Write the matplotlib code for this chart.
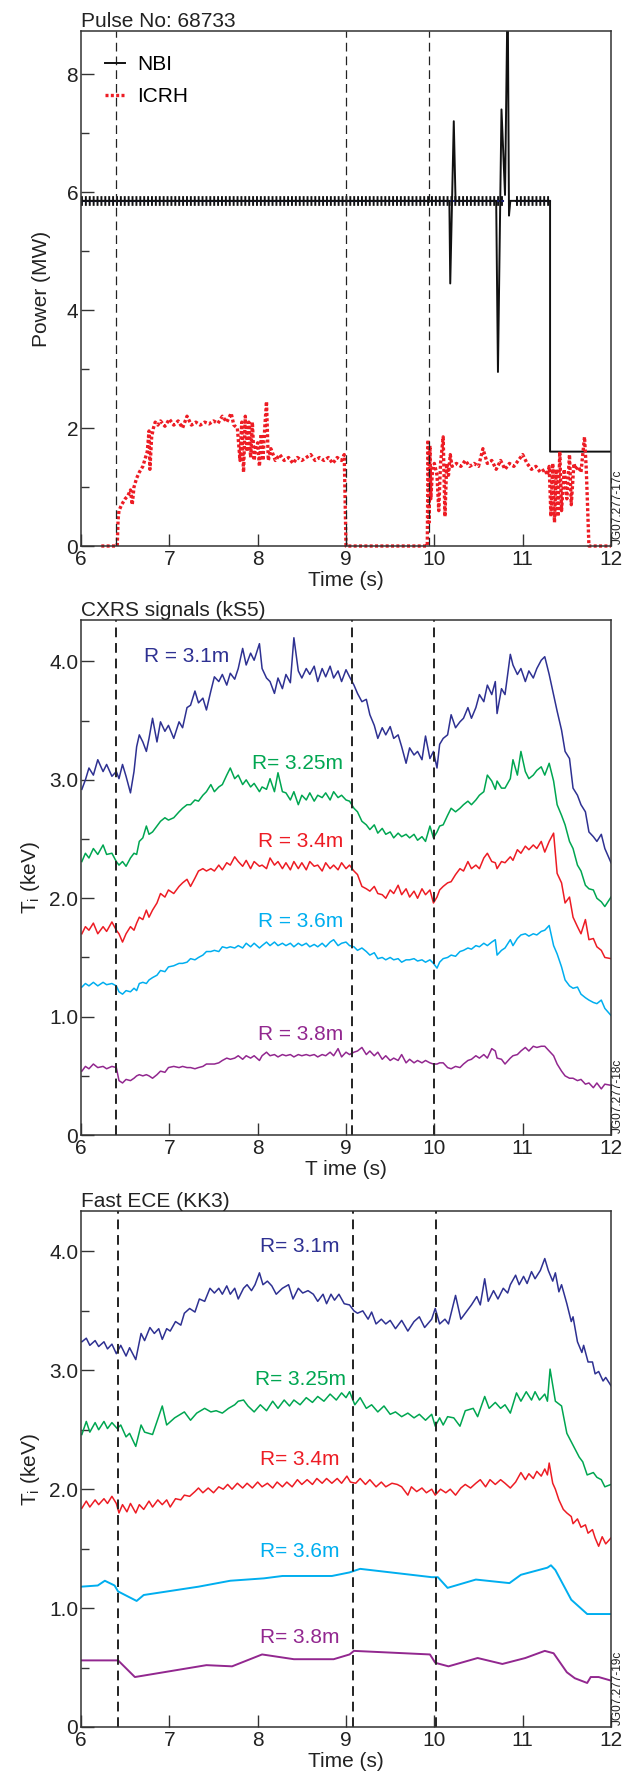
import numpy as np
import matplotlib
matplotlib.use("Agg")
import matplotlib.pyplot as plt
from matplotlib.ticker import FixedLocator, FixedFormatter

plt.rcParams['font.family'] = ['Liberation Sans', 'DejaVu Sans']

# ---------------- panel 1 : heating power ----------------
nbi_t = [6.0, 10.17, 10.18, 10.22, 10.24, 10.70, 10.72, 10.76, 10.80, 10.83,
         10.845, 10.86, 11.31, 11.31, 12.0]
nbi_p = [5.85, 5.85, 4.45, 7.2, 5.85, 5.85, 2.95, 7.4, 5.95, 9.5,
         5.6, 5.85, 5.85, 1.6, 1.6]
# modulated NBI level (dense on/off comb)
band_t = [6.0, 10.78, np.nan, 10.93, 11.31]
band_p = [5.85, 5.85, np.nan, 5.85, 5.85]

icrh_t = [6.23, 6.41, 6.42, 6.43, 6.46, 6.50, 6.53, 6.56, 6.58, 6.60, 6.63, 6.66,
          6.70, 6.73, 6.75, 6.77, 6.78, 6.80, 6.82, 6.84, 6.87, 6.90, 6.95, 7.00,
          7.05, 7.10, 7.15, 7.20, 7.25, 7.30, 7.35, 7.40, 7.45, 7.50, 7.55, 7.60,
          7.65, 7.70, 7.73, 7.77, 7.80, 7.82, 7.84, 7.86, 7.88, 7.90, 7.92, 7.94,
          7.96, 7.98, 8.00, 8.02, 8.04, 8.06, 8.08, 8.10, 8.12, 8.15, 8.20, 8.25,
          8.30, 8.35, 8.40, 8.45, 8.50, 8.55, 8.60, 8.65, 8.70, 8.75, 8.80, 8.85,
          8.90, 8.95, 8.98, 9.00, 9.92, 9.93, 9.94, 9.95, 9.96, 9.98, 10.00, 10.03,
          10.05, 10.07, 10.10, 10.12, 10.14, 10.16, 10.18, 10.20, 10.25, 10.30, 10.35, 10.40,
          10.45, 10.50, 10.55, 10.60, 10.65, 10.70, 10.75, 10.80, 10.85, 10.90, 10.95, 11.00,
          11.05, 11.10, 11.15, 11.20, 11.25, 11.28, 11.30, 11.32, 11.34, 11.36, 11.38, 11.40,
          11.42, 11.44, 11.47, 11.50, 11.53, 11.55, 11.58, 11.60, 11.63, 11.66, 11.70, 11.72,
          11.75, 12.0]
icrh_p = [0.0, 0.0, 0.45, 0.60, 0.70, 0.80, 0.85, 0.95, 0.70, 1.00, 1.15, 1.25,
          1.35, 1.50, 1.60, 1.95, 1.30, 1.85, 2.00, 2.10, 2.05, 2.12, 2.03, 2.15,
          2.05, 2.12, 2.00, 2.20, 2.05, 2.10, 2.05, 2.10, 2.07, 2.12, 2.08, 2.20,
          2.10, 2.25, 2.05, 2.00, 1.45, 2.10, 1.25, 2.20, 1.60, 2.10, 1.50, 2.10,
          1.45, 1.70, 1.75, 1.35, 1.90, 1.45, 2.00, 2.45, 1.45, 1.65, 1.45, 1.55,
          1.45, 1.50, 1.40, 1.50, 1.45, 1.50, 1.55, 1.45, 1.50, 1.45, 1.50, 1.40,
          1.50, 1.45, 1.55, 0.0, 0.0, 1.80, 0.40, 1.70, 0.80, 1.30, 1.40, 1.20,
          0.60, 1.40, 1.85, 0.50, 1.40, 1.20, 1.55, 1.35, 1.40, 1.35, 1.45, 1.35,
          1.40, 1.35, 1.65, 1.40, 1.45, 1.30, 1.45, 1.30, 1.40, 1.35, 1.45, 1.55,
          1.40, 1.30, 1.35, 1.25, 1.30, 1.20, 1.35, 0.50, 1.40, 0.40, 1.30, 0.50,
          1.60, 0.60, 1.30, 0.80, 1.55, 0.70, 1.40, 1.30, 1.35, 1.25, 1.85, 1.30,
          0.0, 0.0]

# ---------------- panel 2 : CXRS ----------------
t_cx = [6.01, 6.05, 6.09, 6.14, 6.19, 6.25, 6.29, 6.35, 6.40, 6.43,
        6.47, 6.51, 6.56, 6.60, 6.63, 6.66, 6.70, 6.74, 6.77, 6.81,
        6.86, 6.90, 6.95, 6.99, 7.05, 7.11, 7.15, 7.20, 7.24, 7.29,
        7.33, 7.38, 7.42, 7.47, 7.51, 7.56, 7.60, 7.65, 7.69, 7.74,
        7.78, 7.83, 7.87, 7.92, 7.96, 8.02, 8.05, 8.10, 8.14, 8.19,
        8.23, 8.28, 8.32, 8.37, 8.41, 8.46, 8.50, 8.55, 8.59, 8.64,
        8.68, 8.73, 8.77, 8.82, 8.86, 8.91, 8.95, 9.00, 9.04, 9.09,
        9.13, 9.18, 9.23, 9.27, 9.32, 9.36, 9.41, 9.45, 9.50, 9.54,
        9.59, 9.63, 9.68, 9.72, 9.77, 9.81, 9.86, 9.90, 9.95, 9.99,
        10.03, 10.06, 10.10, 10.15, 10.19, 10.24, 10.29, 10.33, 10.38, 10.42,
        10.47, 10.51, 10.56, 10.60, 10.65, 10.69, 10.71, 10.76, 10.80, 10.86,
        10.89, 10.94, 10.98, 11.03, 11.07, 11.12, 11.16, 11.21, 11.25, 11.30,
        11.35, 11.39, 11.44, 11.48, 11.53, 11.57, 11.62, 11.66, 11.71, 11.75,
        11.80, 11.84, 11.89, 11.93, 12.00]
cx_31 = [2.92, 3.00, 3.10, 3.04, 3.17, 3.07, 3.13, 3.03, 3.07, 3.01,
         3.13, 3.03, 2.89, 3.07, 3.28, 3.38, 3.32, 3.24, 3.35, 3.52,
         3.32, 3.49, 3.41, 3.46, 3.35, 3.49, 3.44, 3.61, 3.63, 3.75,
         3.65, 3.69, 3.59, 3.75, 3.87, 3.83, 3.89, 3.80, 3.90, 3.85,
         3.94, 4.11, 3.97, 4.07, 4.01, 4.15, 3.94, 3.86, 3.83, 3.73,
         3.86, 3.77, 3.89, 3.82, 4.20, 3.92, 3.86, 3.94, 3.89, 3.96,
         3.83, 3.94, 3.87, 3.96, 3.86, 3.92, 3.83, 3.93, 3.87, 3.80,
         3.73, 3.66, 3.68, 3.55, 3.46, 3.35, 3.44, 3.38, 3.45, 3.35,
         3.38, 3.28, 3.14, 3.27, 3.21, 3.24, 3.17, 3.37, 3.18, 3.24,
         3.10, 3.30, 3.35, 3.38, 3.55, 3.44, 3.49, 3.52, 3.61, 3.52,
         3.61, 3.72, 3.66, 3.80, 3.72, 3.83, 3.56, 3.77, 3.72, 4.06,
         3.97, 3.89, 3.94, 3.83, 3.92, 3.86, 3.94, 4.01, 4.04, 3.89,
         3.72, 3.58, 3.42, 3.24, 3.18, 2.93, 2.87, 2.79, 2.73, 2.56,
         2.52, 2.48, 2.54, 2.42, 2.30]
cx_325 = [2.31, 2.38, 2.34, 2.42, 2.37, 2.45, 2.37, 2.38, 2.31, 2.28,
          2.31, 2.27, 2.34, 2.38, 2.37, 2.48, 2.51, 2.61, 2.54, 2.56,
          2.61, 2.65, 2.68, 2.66, 2.68, 2.73, 2.76, 2.79, 2.79, 2.83,
          2.82, 2.87, 2.90, 2.96, 2.90, 2.94, 2.96, 3.04, 3.10, 3.01,
          3.04, 2.96, 3.00, 2.94, 2.97, 2.90, 2.94, 2.92, 3.01, 2.90,
          3.06, 2.90, 2.89, 2.83, 2.90, 2.79, 2.87, 2.83, 2.89, 2.82,
          2.87, 2.85, 2.89, 2.83, 2.90, 2.85, 2.87, 2.83, 2.82, 2.76,
          2.73, 2.65, 2.62, 2.58, 2.62, 2.55, 2.59, 2.54, 2.56, 2.51,
          2.55, 2.52, 2.54, 2.51, 2.54, 2.49, 2.52, 2.48, 2.61, 2.51,
          2.56, 2.61, 2.62, 2.70, 2.76, 2.73, 2.76, 2.79, 2.82, 2.79,
          2.83, 2.87, 2.90, 3.04, 2.99, 2.92, 2.99, 2.93, 2.93, 3.01,
          3.17, 3.04, 3.24, 3.07, 3.01, 3.04, 3.08, 3.11, 3.04, 3.14,
          2.99, 2.79, 2.70, 2.62, 2.48, 2.42, 2.28, 2.23, 2.11, 2.08,
          2.07, 2.00, 1.97, 1.93, 2.01]
cx_34 = [1.70, 1.76, 1.73, 1.79, 1.70, 1.76, 1.72, 1.80, 1.73, 1.70,
         1.63, 1.70, 1.76, 1.73, 1.79, 1.84, 1.82, 1.90, 1.84, 1.90,
         1.96, 2.04, 2.01, 2.07, 2.04, 2.10, 2.13, 2.16, 2.10, 2.17,
         2.23, 2.25, 2.23, 2.25, 2.23, 2.28, 2.24, 2.30, 2.28, 2.35,
         2.31, 2.27, 2.32, 2.25, 2.31, 2.27, 2.28, 2.25, 2.34, 2.28,
         2.31, 2.25, 2.30, 2.24, 2.31, 2.25, 2.30, 2.24, 2.31, 2.27,
         2.28, 2.23, 2.30, 2.25, 2.28, 2.24, 2.30, 2.25, 2.28, 2.23,
         2.20, 2.10, 2.08, 2.06, 2.10, 2.04, 2.03, 2.00, 2.07, 2.04,
         2.11, 2.03, 2.08, 2.01, 2.06, 2.00, 2.08, 2.03, 2.07, 1.96,
         2.01, 2.07, 2.10, 2.13, 2.14, 2.20, 2.25, 2.23, 2.31, 2.25,
         2.28, 2.25, 2.34, 2.38, 2.31, 2.30, 2.25, 2.31, 2.30, 2.35,
         2.32, 2.41, 2.38, 2.44, 2.41, 2.45, 2.42, 2.48, 2.39, 2.48,
         2.55, 2.21, 2.13, 1.96, 2.01, 1.84, 1.76, 1.70, 1.82, 1.65,
         1.66, 1.59, 1.56, 1.50, 1.49]
cx_36 = [1.25, 1.28, 1.26, 1.29, 1.26, 1.29, 1.27, 1.28, 1.26, 1.21,
         1.19, 1.22, 1.21, 1.24, 1.22, 1.28, 1.29, 1.28, 1.31, 1.33,
         1.35, 1.39, 1.38, 1.42, 1.43, 1.45, 1.45, 1.46, 1.49, 1.48,
         1.50, 1.52, 1.55, 1.55, 1.56, 1.55, 1.59, 1.58, 1.59, 1.58,
         1.60, 1.58, 1.62, 1.59, 1.62, 1.58, 1.60, 1.63, 1.60, 1.63,
         1.60, 1.62, 1.60, 1.62, 1.59, 1.62, 1.60, 1.62, 1.59, 1.61,
         1.59, 1.62, 1.59, 1.63, 1.65, 1.60, 1.62, 1.63, 1.60, 1.59,
         1.56, 1.58, 1.55, 1.52, 1.54, 1.49, 1.50, 1.48, 1.50, 1.48,
         1.49, 1.46, 1.48, 1.48, 1.49, 1.47, 1.48, 1.46, 1.48, 1.45,
         1.41, 1.46, 1.49, 1.50, 1.52, 1.51, 1.55, 1.56, 1.58, 1.57,
         1.60, 1.59, 1.62, 1.60, 1.63, 1.65, 1.52, 1.56, 1.58, 1.65,
         1.60, 1.66, 1.69, 1.70, 1.68, 1.70, 1.69, 1.72, 1.73, 1.77,
         1.60, 1.53, 1.42, 1.31, 1.26, 1.24, 1.25, 1.19, 1.16, 1.14,
         1.12, 1.11, 1.14, 1.07, 1.01]
cx_38 = [0.54, 0.58, 0.56, 0.60, 0.57, 0.58, 0.56, 0.58, 0.57, 0.46,
         0.44, 0.47, 0.46, 0.48, 0.50, 0.51, 0.50, 0.51, 0.50, 0.48,
         0.51, 0.54, 0.53, 0.57, 0.58, 0.57, 0.58, 0.57, 0.57, 0.56,
         0.57, 0.58, 0.60, 0.60, 0.60, 0.61, 0.63, 0.65, 0.64, 0.65,
         0.67, 0.64, 0.67, 0.65, 0.67, 0.63, 0.67, 0.70, 0.67, 0.68,
         0.66, 0.68, 0.67, 0.68, 0.66, 0.68, 0.67, 0.68, 0.67, 0.68,
         0.66, 0.68, 0.67, 0.70, 0.67, 0.73, 0.66, 0.70, 0.68, 0.70,
         0.71, 0.74, 0.68, 0.71, 0.67, 0.70, 0.64, 0.67, 0.63, 0.65,
         0.63, 0.68, 0.61, 0.64, 0.61, 0.63, 0.61, 0.63, 0.61, 0.60,
         0.60, 0.61, 0.61, 0.57, 0.56, 0.58, 0.57, 0.60, 0.63, 0.64,
         0.67, 0.65, 0.68, 0.65, 0.73, 0.71, 0.65, 0.64, 0.60, 0.65,
         0.67, 0.68, 0.71, 0.74, 0.71, 0.75, 0.74, 0.75, 0.75, 0.71,
         0.67, 0.60, 0.54, 0.50, 0.48, 0.48, 0.46, 0.47, 0.43, 0.44,
         0.40, 0.44, 0.39, 0.43, 0.42]

# ---------------- panel 3 : fast ECE ----------------
t_e31 = [6.01, 6.06, 6.10, 6.16, 6.20, 6.26, 6.30, 6.35, 6.40, 6.45,
         6.51, 6.55, 6.62, 6.68, 6.72, 6.78, 6.83, 6.88, 6.92, 6.97,
         7.01, 7.07, 7.13, 7.17, 7.23, 7.29, 7.34, 7.40, 7.46, 7.51,
         7.56, 7.60, 7.65, 7.69, 7.74, 7.78, 7.84, 7.88, 7.93, 7.97,
         8.02, 8.06, 8.11, 8.16, 8.21, 8.28, 8.35, 8.40, 8.46, 8.51,
         8.57, 8.63, 8.68, 8.74, 8.78, 8.83, 8.87, 8.92, 8.98, 9.04,
         9.09, 9.13, 9.19, 9.25, 9.29, 9.34, 9.40, 9.45, 9.50, 9.56,
         9.63, 9.70, 9.77, 9.83, 9.89, 9.97, 10.01, 10.06, 10.12, 10.16,
         10.24, 10.30, 10.36, 10.42, 10.48, 10.52, 10.57, 10.61, 10.67, 10.72,
         10.78, 10.83, 10.86, 10.92, 10.96, 11.01, 11.05, 11.10, 11.14, 11.20,
         11.25, 11.29, 11.34, 11.37, 11.41, 11.44, 11.50, 11.55, 11.57, 11.62,
         11.67, 11.69, 11.74, 11.79, 11.82, 11.86, 11.91, 11.94, 12.00]
ece_31 = [3.24, 3.27, 3.21, 3.25, 3.20, 3.24, 3.18, 3.22, 3.14, 3.21,
          3.12, 3.19, 3.09, 3.31, 3.25, 3.36, 3.31, 3.35, 3.26, 3.35,
          3.33, 3.41, 3.38, 3.48, 3.52, 3.49, 3.60, 3.58, 3.69, 3.65,
          3.69, 3.64, 3.71, 3.64, 3.69, 3.60, 3.69, 3.72, 3.67, 3.72,
          3.82, 3.72, 3.75, 3.71, 3.64, 3.69, 3.72, 3.60, 3.69, 3.65,
          3.67, 3.64, 3.58, 3.64, 3.56, 3.64, 3.59, 3.64, 3.56, 3.55,
          3.50, 3.48, 3.50, 3.43, 3.49, 3.39, 3.43, 3.39, 3.42, 3.35,
          3.42, 3.33, 3.41, 3.45, 3.36, 3.43, 3.52, 3.39, 3.43, 3.39,
          3.63, 3.43, 3.49, 3.55, 3.62, 3.55, 3.77, 3.58, 3.67, 3.60,
          3.69, 3.65, 3.72, 3.80, 3.72, 3.79, 3.73, 3.83, 3.77, 3.84,
          3.94, 3.84, 3.75, 3.82, 3.66, 3.72, 3.56, 3.41, 3.45, 3.24,
          3.15, 3.21, 3.07, 3.07, 2.97, 2.99, 2.91, 2.94, 2.87]

t_e325 = [6.01, 6.06, 6.10, 6.16, 6.20, 6.26, 6.30, 6.35, 6.41, 6.45,
          6.51, 6.55, 6.62, 6.68, 6.72, 6.81, 6.92, 6.97, 7.06, 7.17,
          7.24, 7.31, 7.40, 7.47, 7.53, 7.60, 7.67, 7.74, 7.78, 7.84,
          7.89, 7.96, 8.03, 8.10, 8.17, 8.23, 8.30, 8.36, 8.41, 8.48,
          8.55, 8.62, 8.68, 8.75, 8.82, 8.89, 8.95, 9.00, 9.04, 9.10,
          9.16, 9.23, 9.29, 9.36, 9.43, 9.50, 9.56, 9.63, 9.70, 9.77,
          9.83, 9.90, 9.97, 10.01, 10.06, 10.10, 10.15, 10.22, 10.29, 10.35,
          10.44, 10.49, 10.57, 10.62, 10.69, 10.75, 10.80, 10.86, 10.93, 10.98,
          11.04, 11.10, 11.14, 11.19, 11.25, 11.28, 11.31, 11.37, 11.44, 11.50,
          11.57, 11.64, 11.68, 11.73, 11.80, 11.84, 11.89, 11.93, 12.00]
ece_325 = [2.46, 2.57, 2.48, 2.56, 2.50, 2.57, 2.51, 2.56, 2.51, 2.54,
           2.44, 2.47, 2.36, 2.54, 2.48, 2.46, 2.70, 2.54, 2.60, 2.65,
           2.58, 2.64, 2.68, 2.65, 2.66, 2.64, 2.68, 2.71, 2.74, 2.75,
           2.70, 2.65, 2.71, 2.66, 2.74, 2.68, 2.75, 2.70, 2.75, 2.71,
           2.77, 2.73, 2.78, 2.74, 2.80, 2.75, 2.81, 2.77, 2.82, 2.71,
           2.77, 2.68, 2.71, 2.65, 2.70, 2.63, 2.65, 2.61, 2.64, 2.60,
           2.63, 2.58, 2.63, 2.53, 2.60, 2.54, 2.61, 2.60, 2.53, 2.66,
           2.68, 2.61, 2.78, 2.68, 2.73, 2.68, 2.71, 2.64, 2.81, 2.74,
           2.82, 2.75, 2.82, 2.75, 2.80, 2.74, 3.01, 2.74, 2.70, 2.47,
           2.37, 2.27, 2.23, 2.12, 2.14, 2.10, 2.08, 2.02, 2.04]

t_e34 = [6.01, 6.06, 6.10, 6.16, 6.20, 6.26, 6.30, 6.35, 6.40, 6.43,
         6.47, 6.52, 6.56, 6.62, 6.66, 6.71, 6.77, 6.81, 6.87, 6.92,
         6.97, 7.01, 7.07, 7.13, 7.17, 7.23, 7.29, 7.33, 7.38, 7.44,
         7.50, 7.56, 7.61, 7.66, 7.71, 7.77, 7.83, 7.88, 7.94, 8.00,
         8.05, 8.11, 8.17, 8.22, 8.28, 8.33, 8.39, 8.45, 8.50, 8.56,
         8.62, 8.67, 8.73, 8.78, 8.84, 8.90, 8.95, 9.01, 9.05, 9.11,
         9.16, 9.22, 9.27, 9.34, 9.40, 9.45, 9.52, 9.58, 9.63, 9.70,
         9.74, 9.80, 9.86, 9.91, 9.97, 10.01, 10.07, 10.13, 10.18, 10.24,
         10.30, 10.35, 10.41, 10.47, 10.52, 10.58, 10.63, 10.69, 10.75, 10.80,
         10.86, 10.92, 10.98, 11.03, 11.07, 11.12, 11.16, 11.21, 11.25, 11.28,
         11.30, 11.34, 11.37, 11.41, 11.46, 11.50, 11.55, 11.57, 11.62, 11.66,
         11.71, 11.74, 11.79, 11.82, 11.86, 11.90, 11.94, 12.00]
ece_34 = [1.84, 1.90, 1.85, 1.91, 1.87, 1.92, 1.88, 1.94, 1.88, 1.80,
          1.87, 1.81, 1.88, 1.80, 1.87, 1.83, 1.90, 1.85, 1.91, 1.87,
          1.91, 1.85, 1.92, 1.91, 1.95, 1.94, 1.98, 2.01, 1.97, 2.01,
          1.97, 2.02, 2.00, 2.04, 2.00, 2.05, 2.01, 2.05, 2.01, 2.06,
          2.02, 2.05, 2.01, 2.06, 2.02, 2.06, 2.02, 2.08, 2.04, 2.08,
          2.04, 2.09, 2.05, 2.09, 2.05, 2.09, 2.05, 2.11, 2.06, 2.05,
          2.09, 2.04, 2.08, 2.02, 2.06, 2.02, 2.05, 2.04, 2.02, 1.95,
          2.02, 1.98, 2.01, 1.97, 2.00, 1.95, 2.00, 1.97, 2.00, 1.95,
          2.01, 2.04, 2.01, 2.05, 2.08, 2.02, 2.08, 2.04, 2.08, 2.05,
          2.01, 2.06, 2.14, 2.08, 2.13, 2.09, 2.15, 2.11, 2.17, 2.12,
          2.22, 2.05, 2.00, 1.91, 1.83, 1.80, 1.77, 1.71, 1.75, 1.68,
          1.70, 1.63, 1.66, 1.59, 1.52, 1.60, 1.54, 1.59]

t_e36 = [6.00, 6.19, 6.27, 6.38, 6.42, 6.63, 6.71, 7.33, 7.69, 8.07, 8.28, 8.84, 9.04,
         9.16, 9.97, 10.04, 10.15, 10.47, 10.85, 10.98, 11.28, 11.32, 11.37, 11.55,
         11.73, 12.00]
ece_36 = [1.18, 1.19, 1.23, 1.19, 1.14, 1.06, 1.11, 1.18, 1.23, 1.25, 1.27, 1.27, 1.30,
          1.33, 1.26, 1.26, 1.17, 1.24, 1.21, 1.28, 1.34, 1.36, 1.32, 1.07,
          0.95, 0.95]

t_e38 = [6.00, 6.42, 6.61, 7.42, 7.71, 8.05, 8.41, 8.86, 9.04, 9.09, 9.95, 10.01,
         10.16, 10.49, 10.77, 11.03, 11.25, 11.35, 11.50, 11.59, 11.73, 11.77, 11.86, 12.00]
ece_38 = [0.56, 0.56, 0.42, 0.52, 0.51, 0.61, 0.57, 0.57, 0.61, 0.64, 0.61, 0.54,
          0.51, 0.58, 0.53, 0.58, 0.64, 0.62, 0.46, 0.41, 0.37, 0.42, 0.42, 0.39]

blue = '#2e3192'
green = '#00a651'
red = '#ed1c24'
cyan = '#00aeef'
purple = '#92278f'
fs = 15

fig = plt.figure(figsize=(6.24, 17.78), dpi=100)
left, width, height = 0.1298, 0.8494, 0.2897
ax1 = fig.add_axes([left, 0.6929, width, height])
ax2 = fig.add_axes([left, 0.3616, width, height])
ax3 = fig.add_axes([left, 0.0287, width, 0.2902])


def style(ax, ymax, major, minor, labels, xlabel, title, code):
    ax.set_xlim(6, 12)
    ax.set_ylim(0, ymax)
    ax.set_xticks(range(6, 13))
    ax.yaxis.set_major_locator(FixedLocator(major))
    ax.yaxis.set_major_formatter(FixedFormatter(labels))
    ax.yaxis.set_minor_locator(FixedLocator(minor))
    ax.tick_params(which='both', direction='in', colors='#333333', labelcolor='#222222',
                   labelsize=fs, width=1.0, pad=2)
    ax.tick_params(which='major', length=9)
    ax.tick_params(which='minor', length=6)
    ax.tick_params(axis='x', pad=3)
    for s in ax.spines.values():
        s.set_color('#333333')
        s.set_linewidth(1.1)
    ax.set_xlabel(xlabel, fontsize=fs, labelpad=1, color='#222222')
    ax.set_title(title, loc='left', fontsize=fs, pad=3, color='#222222')
    pos = ax.get_position()
    fig.text(0.9895, pos.y0 + 0.001, code, rotation=90, ha='center', va='bottom',
             fontsize=8.5, color='#222222')


# panel 1
ax1.plot(band_t, band_p, color='#111111', lw=7.0, dashes=(0.2, 0.2))
ax1.plot(band_t, band_p, color='#1b1f6b', lw=1.5)
ax1.plot(nbi_t, nbi_p, color='#111111', lw=1.4, label='NBI')
ax1.plot(icrh_t, icrh_p, color=red, lw=2.4, linestyle=(0, (0.9, 0.7)), label='ICRH',
         clip_on=False)
for x in [6.4, 9.0, 9.94]:
    ax1.axvline(x, color='#222222', lw=0.9, dashes=(7, 4))
style(ax1, 8.73, [0, 2, 4, 6, 8], [1, 3, 5, 7], ['0', '2', '4', '6', '8'],
      'Time (s)', 'Pulse No: 68733', 'JG07.277-17c')
ax1.set_ylabel('Power (MW)', fontsize=fs, labelpad=11, color='#222222')
leg = ax1.legend(loc='upper left', bbox_to_anchor=(0.01, 0.99), frameon=False,
                 fontsize=fs, handlelength=0.95, handletextpad=0.6, labelspacing=0.65)

# panel 2
cx_series = [(cx_31, blue), (cx_325, green), (cx_34, red), (cx_36, cyan), (cx_38, purple)]
for vals, c in cx_series:
    ax2.plot(t_cx, vals, color=c, lw=1.1)
for x in [6.4, 9.07, 10.0]:
    ax2.axvline(x, color='#222222', lw=1.4, dashes=(5, 3))
ax2.text(7.2, 4.04, 'R = 3.1m', color=blue, fontsize=fs, ha='center', va='center')
ax2.text(8.97, 3.14, 'R= 3.25m', color=green, fontsize=fs, ha='right', va='center')
ax2.text(8.97, 2.48, 'R = 3.4m', color=red, fontsize=fs, ha='right', va='center')
ax2.text(8.97, 1.80, 'R = 3.6m', color=cyan, fontsize=fs, ha='right', va='center')
ax2.text(8.97, 0.85, 'R = 3.8m', color=purple, fontsize=fs, ha='right', va='center')
style(ax2, 4.35, [0, 1, 2, 3, 4], [0.5, 1.5, 2.5, 3.5], ['0', '1.0', '2.0', '3.0', '4.0'],
      'T ime (s)', 'CXRS signals (kS5)', 'JG07.277-18c')
ax2.set_ylabel('T$_\\mathregular{i}$ (keV)', fontsize=fs, labelpad=5, color='#222222')

# panel 3
ece_series = [(t_e31, ece_31, blue, 1.1), (t_e325, ece_325, green, 1.1),
              (t_e34, ece_34, red, 1.1), (t_e36, ece_36, cyan, 1.4),
              (t_e38, ece_38, purple, 1.4)]
for tt, vals, c, lw in ece_series:
    ax3.plot(tt, vals, color=c, lw=lw)
for x in [6.42, 9.08, 10.02]:
    ax3.axvline(x, color='#222222', lw=1.4, dashes=(5, 3))
ax3.text(8.93, 4.04, 'R= 3.1m', color=blue, fontsize=fs, ha='right', va='center')
ax3.text(9.0, 2.92, 'R= 3.25m', color=green, fontsize=fs, ha='right', va='center')
ax3.text(8.93, 2.25, 'R= 3.4m', color=red, fontsize=fs, ha='right', va='center')
ax3.text(8.93, 1.48, 'R= 3.6m', color=cyan, fontsize=fs, ha='right', va='center')
ax3.text(8.93, 0.75, 'R= 3.8m', color=purple, fontsize=fs, ha='right', va='center')
style(ax3, 4.34, [0, 1, 2, 3, 4], [0.5, 1.5, 2.5, 3.5], ['0', '1.0', '2.0', '3.0', '4.0'],
      'Time (s)', 'Fast ECE (KK3)', 'JG07.277-19c')
ax3.set_ylabel('T$_\\mathregular{i}$ (keV)', fontsize=fs, labelpad=5, color='#222222')

fig.savefig('out.png', dpi=100)
